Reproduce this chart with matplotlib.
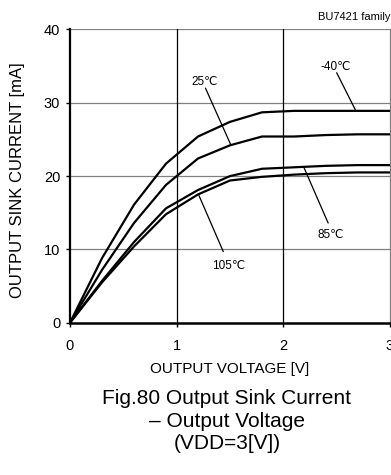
import matplotlib
matplotlib.use("Agg")
import matplotlib.pyplot as plt

plt.rcParams['font.family'] = ['Liberation Sans', 'DejaVu Sans']

voltage = [0, 0.3, 0.6, 0.9, 1.2, 1.5, 1.8, 2.1, 2.4, 2.7, 3.0]
i_m40 = [0, 8.8, 16.1, 21.7, 25.4, 27.4, 28.7, 28.9, 28.9, 28.9, 28.9]
i_25 = [0, 7.2, 13.6, 18.8, 22.4, 24.2, 25.4, 25.4, 25.6, 25.7, 25.7]
i_85 = [0, 5.7, 11.0, 15.6, 18.1, 20.0, 21.0, 21.2, 21.4, 21.5, 21.5]
i_105 = [0, 5.5, 10.4, 14.8, 17.5, 19.4, 19.9, 20.2, 20.4, 20.5, 20.5]
series = [i_m40, i_25, i_85, i_105]

labels = ["-40℃", "25℃", "85℃", "105℃"]
label_pos = [(2.49, 34.9), (1.26, 32.8), (2.445, 11.9), (1.49, 7.8)]
leader_start = [(2.50, 34.1), (1.27, 32.0), (2.42, 13.6), (1.437, 9.7)]
leader_end = [(2.68, 28.9), (1.505, 24.35), (2.194, 21.15), (1.209, 17.35)]

x_ticks = [0, 1, 2, 3]
y_ticks = [0, 10, 20, 30, 40]

fig = plt.figure(figsize=(3.91, 4.75), dpi=100)
ax = fig.add_axes([70/391, 1-322.7/475, 320/391, (322.7-29.5)/475])

for vals in series:
    ax.plot(voltage, vals, color='black', lw=1.6, solid_joinstyle='miter', zorder=3)

ax.set_xlim(0, 3)
ax.set_ylim(0, 40)
ax.set_xticks(x_ticks)
ax.set_yticks(y_ticks)
ax.tick_params(labelsize=10.5, length=3, width=1, color='black')
ax.tick_params(axis='x', pad=9)
ax.tick_params(axis='y', pad=4)
for y in y_ticks[1:]:
    ax.axhline(y, color='#808080', lw=0.9, zorder=1)
for x in x_ticks[1:3]:
    ax.axvline(x, color='black', lw=0.9, zorder=1)

ax.spines['left'].set_linewidth(1.6)
ax.spines['bottom'].set_linewidth(1.8)
ax.spines['top'].set_visible(False)
ax.spines['right'].set_color('#808080')
ax.spines['right'].set_linewidth(0.9)

ax.set_xlabel("OUTPUT VOLTAGE [V]", fontsize=11)
ax.xaxis.set_label_coords(0.5, -0.135)
ax.set_ylabel("OUTPUT SINK CURRENT [mA]", fontsize=12)
ax.yaxis.set_label_coords(-0.14, 0.485)

for lab, pos, st, en in zip(labels, label_pos, leader_start, leader_end):
    ax.text(pos[0], pos[1], lab, fontsize=8.5, ha='center', va='center')
    ax.annotate("", xy=en, xytext=st,
                arrowprops=dict(arrowstyle='-', color='black', lw=0.9,
                                shrinkA=0, shrinkB=0))

fig.text(390/391, 1-17/475, "BU7421 family", fontsize=8, ha='right', va='center')

fig.text(227/391, 1-404/475, "Fig.80 Output Sink Current", fontsize=15, ha='center', va='baseline')
fig.text(227/391, 1-426.7/475, "– Output Voltage", fontsize=15, ha='center', va='baseline')
fig.text(227/391, 1-449.3/475, "(VDD=3[V])", fontsize=15, ha='center', va='baseline')

fig.savefig("out.png", dpi=100)
